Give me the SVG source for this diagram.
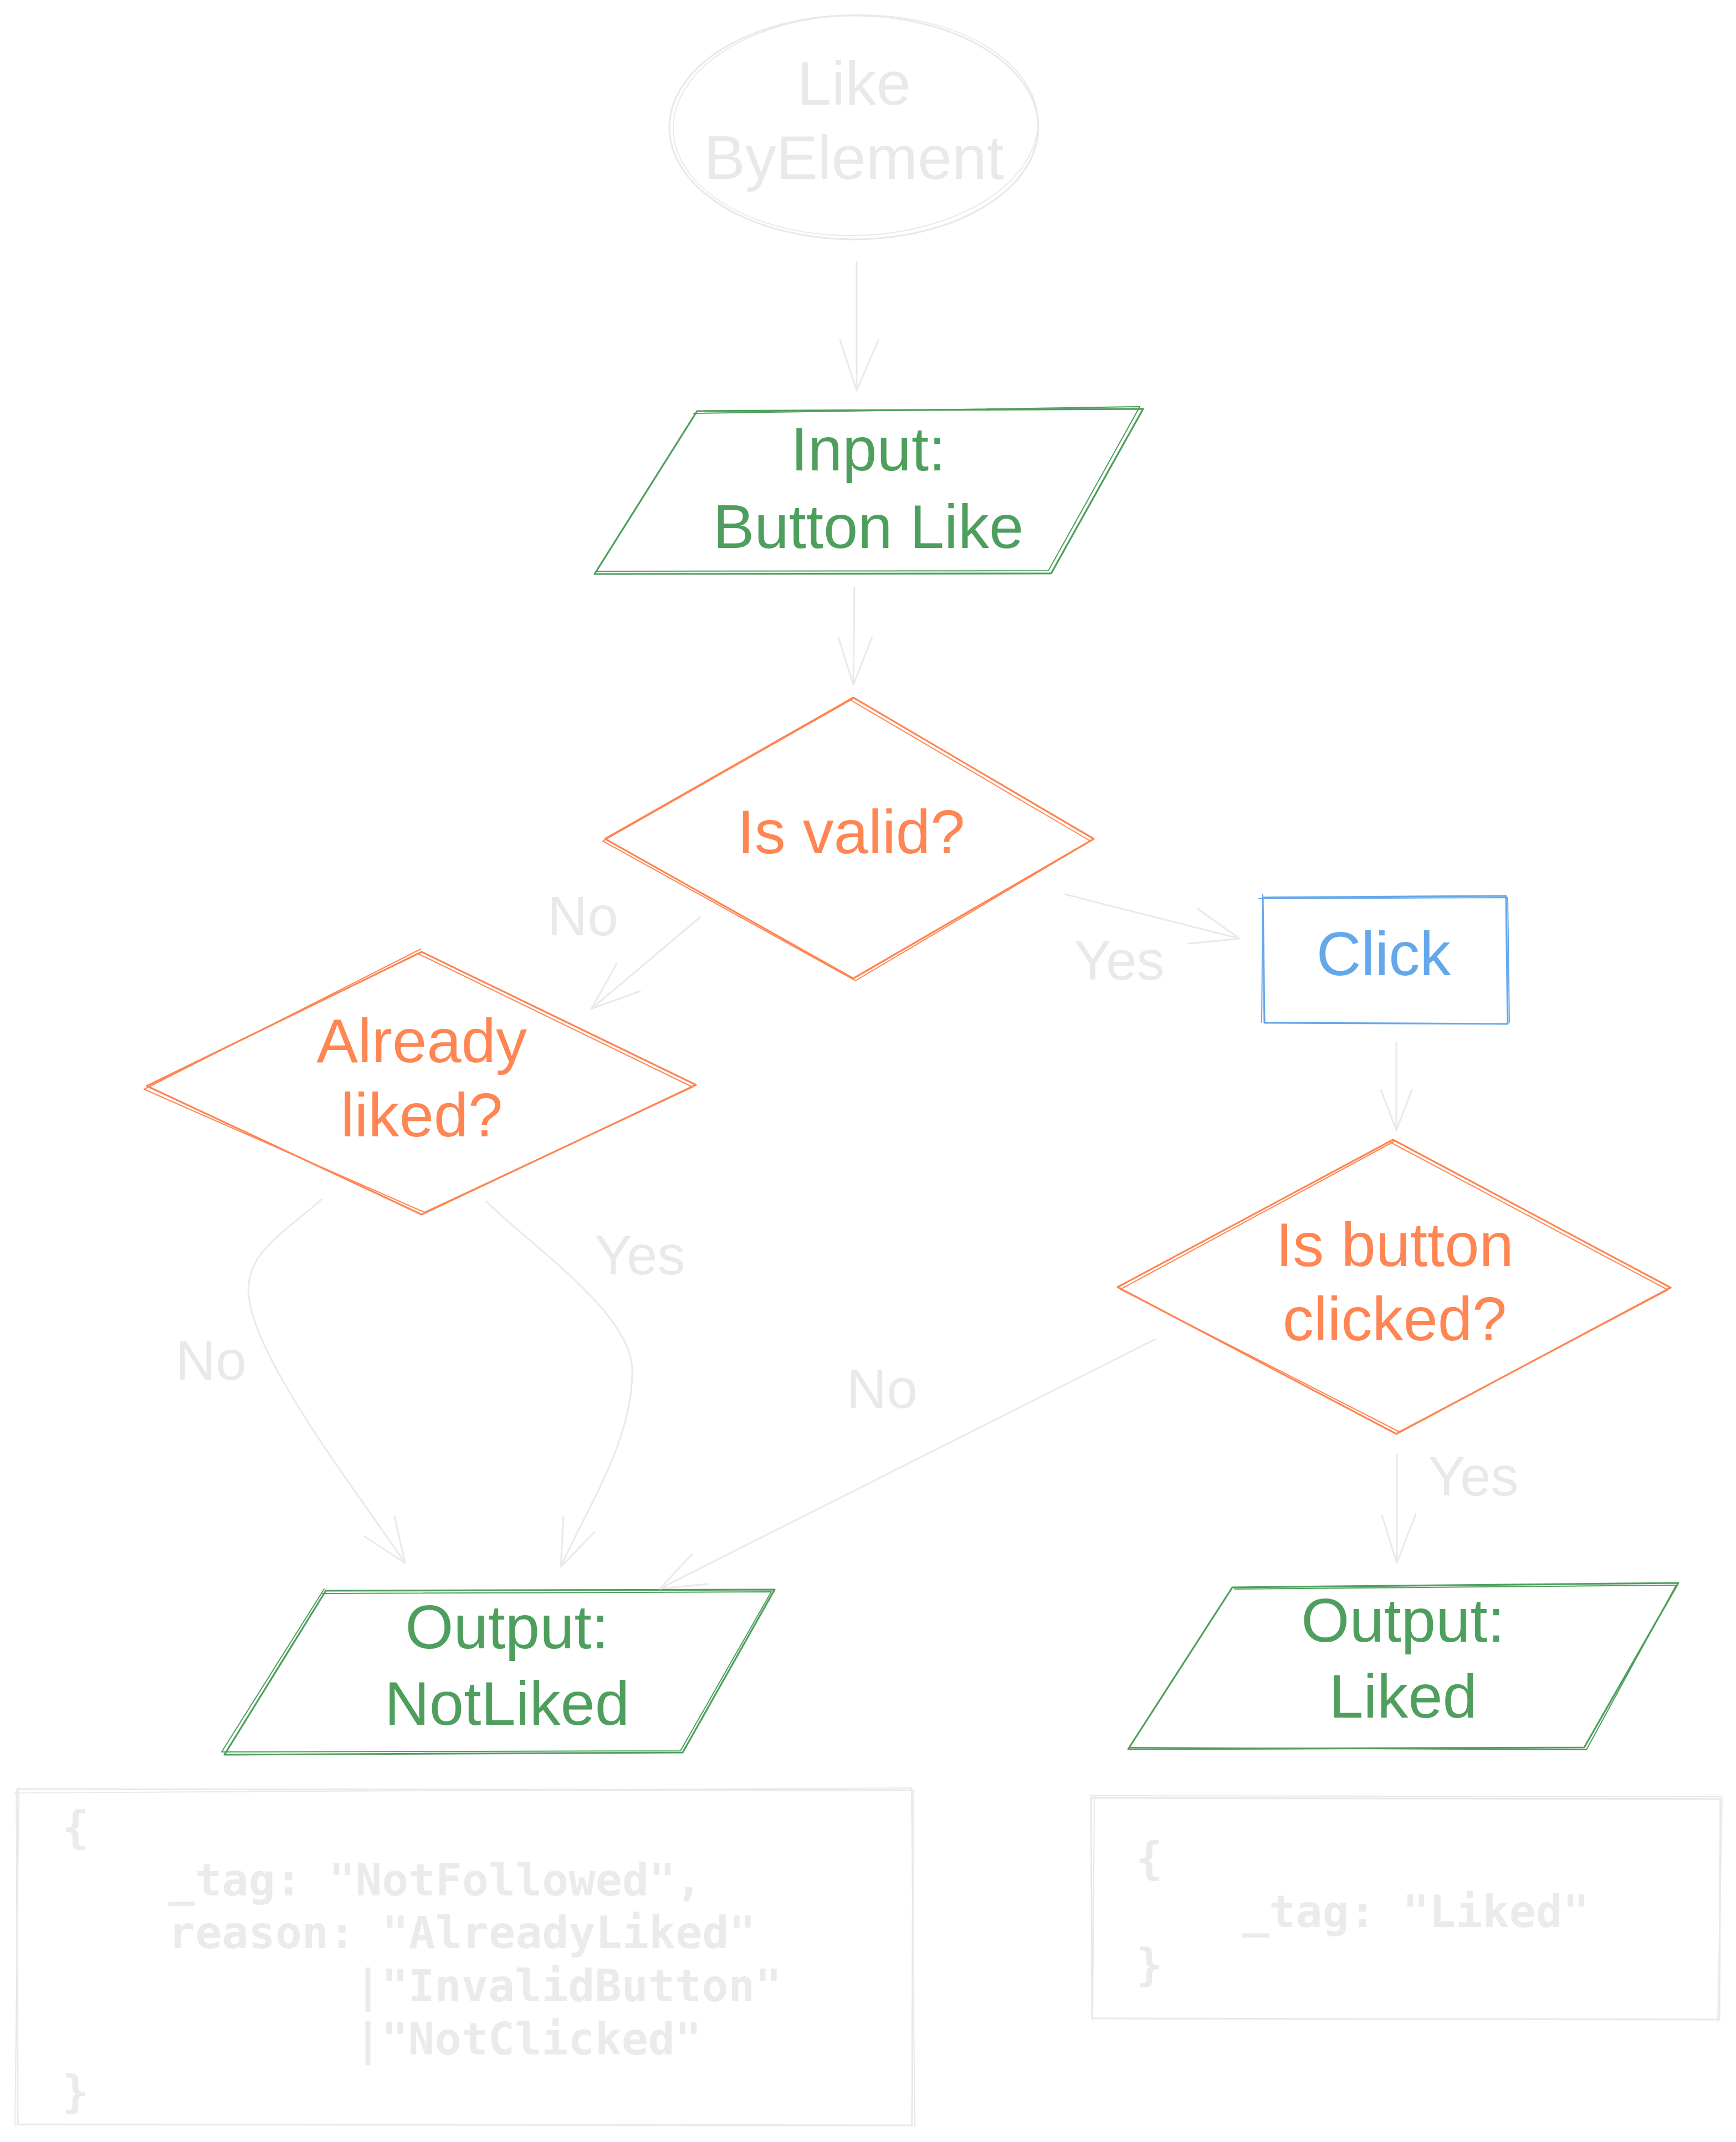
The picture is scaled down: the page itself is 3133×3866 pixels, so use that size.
<svg xmlns="http://www.w3.org/2000/svg" width="3133" height="3866" viewBox="0 0 3133 3866">
<style>
.hand{font-family:"Liberation Sans",Arial,sans-serif;font-size:112px;text-anchor:middle}
.lbl{font-family:"Liberation Sans",Arial,sans-serif;font-size:100px;text-anchor:middle;fill:#e9e9e9}
.code{font-family:"DejaVu Sans Mono","Liberation Mono",monospace;font-size:80px;font-weight:bold;fill:#ebebeb}
.tg{fill:#e9e9e9}.to{fill:#ff8552}.tgr{fill:#4e9f5d}.tb{fill:#64a8ea}
.sg{fill:none;stroke:#e9e9e9;stroke-linecap:round;stroke-linejoin:round}
.so{fill:none;stroke:#ff8552;stroke-linecap:round;stroke-linejoin:round}
.sgr{fill:none;stroke:#4e9f5d;stroke-linecap:round;stroke-linejoin:round}
.sb{fill:none;stroke:#64a8ea;stroke-linecap:round;stroke-linejoin:round}
.w1{stroke-width:3.2}.w2{stroke-width:2}
.con{fill:none;stroke:#e9e9e9;stroke-width:3;stroke-linecap:round;stroke-linejoin:round}
</style>
<rect width="3133" height="3866" fill="#ffffff"/>

<g id="start">
<ellipse class="sg w1" cx="1541" cy="230" rx="333" ry="202"/>
<ellipse class="sg w2" cx="1544" cy="226" rx="329" ry="199" transform="rotate(-1.5 1544 226)"/>
<text class="hand tg" x="1541" y="189">Like</text>
<text class="hand tg" x="1541" y="323">ByElement</text>
</g>

<g id="input">
<path class="sgr w1" d="M1258,742 L2063,738 L1897,1035 L1073,1036 Z"/>
<path class="sgr w2" d="M1252,746 L2057,734 L1892,1030 L1078,1031"/>
<text class="hand tgr" x="1567" y="849">Input:</text>
<text class="hand tgr" x="1567" y="989">Button Like</text>
</g>

<g id="isvalid">
<path class="so w1" d="M1540,1259 L1974,1514 L1540,1766 L1092,1514 Z"/>
<path class="so w2" d="M1536,1264 L1968,1518 L1544,1770 L1088,1518 L1538,1262"/>
<text class="hand to" x="1536" y="1540">Is valid?</text>
</g>

<g id="alreadyliked">
<path class="so w1" d="M761,1718 L1256,1958 L761,2192 L265,1960 Z"/>
<path class="so w2" d="M756,1722 L1250,1962 L766,2188 L260,1966 L759,1713"/>
<text class="hand to" x="761" y="1917">Already</text>
<text class="hand to" x="761" y="2051">liked?</text>
</g>

<g id="click">
<path class="sb w1" d="M2279,1620 L2718,1617 L2721,1848 L2282,1846 Z"/>
<path class="sb w2" d="M2272,1622 L2721,1620 L2724,1845 M2279,1614 L2277,1845"/>
<text class="hand tb" x="2497" y="1760">Click</text>
</g>

<g id="isbuttonclicked">
<path class="so w1" d="M2514,2057 L3015,2324 L2520,2588 L2017,2323 Z"/>
<path class="so w2" d="M2510,2062 L3010,2328 L2525,2584 L2022,2327 L2516,2060"/>
<text class="hand to" x="2517" y="2285">Is button</text>
<text class="hand to" x="2517" y="2419">clicked?</text>
</g>

<g id="notliked">
<path class="sgr w1" d="M588,2871 L1398,2869 L1232,3163 L405,3167 Z"/>
<path class="sgr w2" d="M582,2876 L1392,2873 L1228,3160 L400,3162 L585,2868"/>
<text class="hand tgr" x="915" y="2975">Output:</text>
<text class="hand tgr" x="915" y="3113">NotLiked</text>
</g>

<g id="liked">
<path class="sgr w1" d="M2224,2865 L3029,2857 L2859,3154 L2036,3157 Z"/>
<path class="sgr w2" d="M2228,2868 L3025,2861 L2863,3158 L2040,3154"/>
<text class="hand tgr" x="2532" y="2963">Output:</text>
<text class="hand tgr" x="2532" y="3100">Liked</text>
</g>

<g id="notliked-code">
<path class="sg w1" d="M30,3229 L1648,3231 L1646,3836 L32,3834 Z"/>
<path class="sg w2" d="M26,3236 L1645,3227 L1651,3838 M34,3226 L27,3838"/>
<text class="code" x="112" y="3326">{</text>
<text class="code" x="304" y="3421">_tag: "NotFollowed",</text>
<text class="code" x="304" y="3516">reason: "AlreadyLiked"</text>
<text class="code" x="640" y="3612">|"InvalidButton"</text>
<text class="code" x="640" y="3708">|"NotClicked"</text>
<text class="code" x="112" y="3803">}</text>
</g>

<g id="liked-code">
<path class="sg w1" d="M1969,3245 L3105,3247 L3103,3645 L1971,3643 Z"/>
<path class="sg w2" d="M1966,3241 L3108,3243 L3100,3648 M1975,3240 L1972,3646"/>
<text class="code" x="2050" y="3382">{</text>
<text class="code" x="2242" y="3478">_tag: "Liked"</text>
<text class="code" x="2050" y="3574">}</text>
</g>

<g id="connectors">
<path class="con" d="M1546,473 L1546,705 M1516,614 L1546,705 L1585,614"/>
<path class="con" d="M1542,1060 L1540,1236 M1513,1150 L1540,1236 L1574,1150"/>
<path class="con" d="M1264,1655 L1067,1821 M1113,1739 L1067,1821 L1155,1789"/>
<path class="con" d="M1922,1614 L2237,1694 M2161,1640 L2237,1694 L2145,1703"/>
<path class="con" d="M2520,1881 L2520,2040 M2492,1967 L2520,2040 L2548,1967"/>
<path class="con" d="M580,2165 C520,2220 440,2260 449,2340 C462,2460 650,2700 731,2821 M658,2773 L731,2821 L712,2737"/>
<path class="con" d="M877,2168 C960,2250 1140,2370 1141,2473 C1142,2600 1060,2720 1012,2828 M1017,2737 L1012,2828 L1073,2765"/>
<path class="con" d="M2085,2417 L1191,2867 M1249,2805 L1191,2867 L1278,2859"/>
<path class="con" d="M2521,2625 L2521,2821 M2494,2735 L2521,2821 L2555,2732"/>
<text class="lbl" x="1052" y="1688">No</text>
<text class="lbl" x="2020" y="1768">Yes</text>
<text class="lbl" x="381" y="2490">No</text>
<text class="lbl" x="1155" y="2300">Yes</text>
<text class="lbl" x="1592" y="2541">No</text>
<text class="lbl" x="2659" y="2699">Yes</text>
</g>
</svg>
